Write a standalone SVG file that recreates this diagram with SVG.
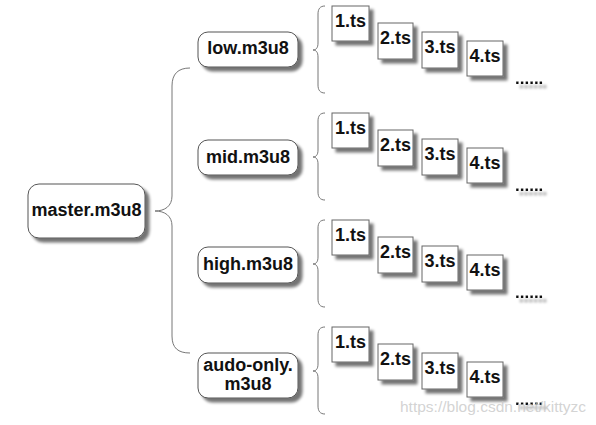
<svg xmlns="http://www.w3.org/2000/svg" width="596" height="425" viewBox="0 0 596 425">
<defs>
<filter id="sh" x="-20%" y="-20%" width="150%" height="150%">
<feGaussianBlur in="SourceAlpha" stdDeviation="1.8"/>
<feOffset dx="4" dy="4" result="b"/>
<feComponentTransfer><feFuncA type="linear" slope="0.55"/></feComponentTransfer>
<feMerge><feMergeNode/><feMergeNode in="SourceGraphic"/></feMerge>
</filter>
<g id="row">
<g filter="url(#sh)">
<rect class="ts" x="332" y="6" width="37" height="35"/>
<rect class="ts" x="378" y="23" width="35" height="36"/>
<rect class="ts" x="422" y="32" width="36" height="36"/>
<rect class="ts" x="467" y="41" width="36" height="35"/>
</g>
<text class="t2" x="350.5" y="27">1.ts</text>
<text class="t2" x="395.5" y="44">2.ts</text>
<text class="t2" x="440" y="53">3.ts</text>
<text class="t2" x="485" y="62">4.ts</text>
<text class="dots" x="515" y="84" filter="url(#sh)">......</text>
</g>
</defs>
<style>
.node{fill:#fff;stroke:#555;stroke-width:1}
.ts{fill:#fff;stroke:#666;stroke-width:1}
.t1{font-family:"Liberation Sans",Arial,sans-serif;font-weight:bold;font-size:18px;fill:#111;text-anchor:middle}
.t2{font-family:"Liberation Sans",Arial,sans-serif;font-weight:bold;font-size:18px;fill:#111;text-anchor:middle}
.dots{font-family:"Liberation Sans",Arial,sans-serif;font-weight:bold;font-size:17px;fill:#111}
.br{fill:none;stroke:#777;stroke-width:1}
.wm{font-family:"Liberation Sans",Arial,sans-serif;font-size:15.5px;fill:#c8c8c8;fill-opacity:0.8}
</style>
<rect width="596" height="425" fill="#fff"/>
<g id="connectors">
<path class="br" d="M190,68 C178,68 172,74 172,86 L172,196 C172,206 165,211 155,211 C165,211 172,216 172,226 L172,336 C172,348 178,353 190,353"/>
<path class="br" d="M325,6 C320,6 318,9 318,14 L318,43 C318,48 316,50 313,50 C316,50 318,52 318,57 L318,85 C318,90 320,93 325,93"/>
<path class="br" transform="translate(0,107)" d="M325,6 C320,6 318,9 318,14 L318,43 C318,48 316,50 313,50 C316,50 318,52 318,57 L318,85 C318,90 320,93 325,93"/>
<path class="br" transform="translate(0,214)" d="M325,6 C320,6 318,9 318,14 L318,43 C318,48 316,50 313,50 C316,50 318,52 318,57 L318,85 C318,90 320,93 325,93"/>
<path class="br" transform="translate(0,321)" d="M325,6 C320,6 318,9 318,14 L318,43 C318,48 316,50 313,50 C316,50 318,52 318,57 L318,85 C318,90 320,93 325,93"/>
</g>
<g id="master">
<rect class="node" x="28" y="184" width="117" height="54" rx="11" filter="url(#sh)"/>
<text class="t1" x="86.5" y="216">master.m3u8</text>
</g>
<g id="low">
<rect class="node" x="198" y="32" width="100" height="35" rx="10" filter="url(#sh)"/>
<text class="t1" x="248" y="54">low.m3u8</text>
</g>
<g id="mid">
<rect class="node" x="198" y="140" width="100" height="35" rx="10" filter="url(#sh)"/>
<text class="t1" x="248" y="163">mid.m3u8</text>
</g>
<g id="high">
<rect class="node" x="198" y="247" width="100" height="36" rx="10" filter="url(#sh)"/>
<text class="t1" x="248" y="270">high.m3u8</text>
</g>
<g id="audio">
<rect class="node" x="198" y="353" width="100" height="45" rx="10" filter="url(#sh)"/>
<text class="t1" x="248" y="371">audo-only.</text>
<text class="t1" x="248" y="390">m3u8</text>
</g>
<g id="low-ts"><use href="#row"/></g>
<g id="mid-ts"><use href="#row" transform="translate(0,107)"/></g>
<g id="high-ts"><use href="#row" transform="translate(0,214)"/></g>
<g id="audio-ts"><use href="#row" transform="translate(0,321)"/></g>
<text class="wm" x="400" y="412">https://blog.csdn.net/kittyzc</text>
</svg>
